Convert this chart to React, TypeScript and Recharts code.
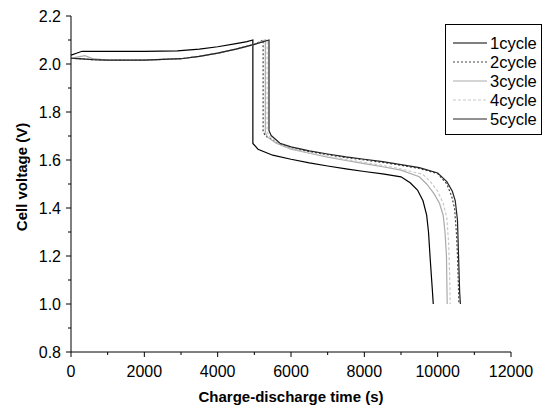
import { LineChart, Line, XAxis, YAxis, Legend } from 'recharts';

// time (s) / voltage (V), one pair of arrays per cycle
const c1Time = [0, 150, 300, 1000, 2000, 2900, 3500, 4000, 4500, 4800, 4960, 4960, 5100, 5500, 6000, 6500, 7000, 7500, 8000, 8500, 9000, 9250, 9450, 9600, 9700, 9750, 9800, 9850, 9880];
const c1Volt = [2.037, 2.045, 2.053, 2.053, 2.053, 2.055, 2.062, 2.072, 2.085, 2.093, 2.1, 1.669, 1.645, 1.62, 1.603, 1.588, 1.575, 1.563, 1.552, 1.542, 1.53, 1.505, 1.475, 1.43, 1.37, 1.3, 1.18, 1.07, 1.0];

const c2Time = [0, 200, 400, 600, 1000, 2000, 3000, 3500, 4000, 4500, 5000, 5240, 5240, 5300, 5600, 5800, 6000, 6500, 7000, 7500, 8000, 8500, 9000, 9500, 10000, 10250, 10380, 10460, 10510, 10540, 10560, 10580];
const c2Volt = [2.024, 2.022, 2.02, 2.018, 2.016, 2.016, 2.022, 2.032, 2.045, 2.062, 2.082, 2.1, 1.72, 1.7, 1.675, 1.66, 1.65, 1.635, 1.622, 1.61, 1.6, 1.59, 1.578, 1.565, 1.543, 1.5, 1.45, 1.4, 1.3, 1.2, 1.1, 1.0];

const c3Time = [0, 200, 380, 600, 1000, 2000, 3000, 3500, 4000, 4500, 5000, 5300, 5300, 5360, 5600, 6000, 6500, 7000, 7500, 8000, 8500, 9000, 9500, 9700, 9900, 10050, 10150, 10200, 10240, 10260];
const c3Volt = [2.024, 2.03, 2.035, 2.022, 2.016, 2.016, 2.022, 2.032, 2.045, 2.062, 2.082, 2.1, 1.715, 1.695, 1.67, 1.645, 1.628, 1.612, 1.598, 1.585, 1.572, 1.558, 1.53, 1.5, 1.46, 1.42, 1.37, 1.3, 1.2, 1.0];

const c4Time = [0, 200, 400, 600, 1000, 2000, 3000, 3500, 4000, 4500, 5000, 5350, 5350, 5410, 5600, 6000, 6500, 7000, 7500, 8000, 8500, 9000, 9600, 9800, 10000, 10150, 10250, 10300, 10330, 10340];
const c4Volt = [2.024, 2.022, 2.02, 2.018, 2.016, 2.016, 2.022, 2.032, 2.045, 2.062, 2.082, 2.1, 1.718, 1.698, 1.675, 1.648, 1.63, 1.615, 1.602, 1.59, 1.577, 1.563, 1.54, 1.51, 1.47, 1.42, 1.36, 1.25, 1.1, 1.0];

const c5Time = [0, 200, 400, 600, 1000, 2000, 3000, 3500, 4000, 4500, 5000, 5400, 5400, 5460, 5700, 6000, 6500, 7000, 7500, 8000, 8500, 9000, 9500, 10000, 10250, 10400, 10480, 10540, 10570, 10600, 10620];
const c5Volt = [2.024, 2.022, 2.02, 2.018, 2.016, 2.016, 2.022, 2.032, 2.045, 2.062, 2.082, 2.1, 1.722, 1.702, 1.67, 1.655, 1.638, 1.625, 1.613, 1.603, 1.593, 1.581, 1.568, 1.546, 1.51, 1.47, 1.43, 1.35, 1.2, 1.05, 1.0];

const xTicks = [0, 1000, 2000, 3000, 4000, 5000, 6000, 7000, 8000, 9000, 10000, 11000, 12000];
const yTicks = [0.8, 0.9, 1.0, 1.1, 1.2, 1.3, 1.4, 1.5, 1.6, 1.7, 1.8, 1.9, 2.0, 2.1, 2.2];

const toPoints = (t: number[], v: number[]) => t.map((x, i) => ({ t: x, v: v[i] }));

const series = [
  { name: '1cycle', data: toPoints(c1Time, c1Volt), color: '#000000', dash: undefined },
  { name: '2cycle', data: toPoints(c2Time, c2Volt), color: '#444444', dash: '2 2' },
  { name: '3cycle', data: toPoints(c3Time, c3Volt), color: '#aaaaaa', dash: undefined },
  { name: '4cycle', data: toPoints(c4Time, c4Volt), color: '#c8c8c8', dash: '3 2' },
  { name: '5cycle', data: toPoints(c5Time, c5Volt), color: '#222222', dash: undefined },
];

const font = '"Liberation Sans", Arial, sans-serif';

const XTick = (props: any) => {
  const { x, y, payload } = props;
  const major = payload.value % 2000 === 0;
  return (
    <g>
      <line x1={x} y1={y} x2={x} y2={y + (major ? 5 : 3)} stroke="#000" />
      {major && (
        <text x={x} y={y + 25} textAnchor="middle" fill="#000" fontSize={16} fontFamily={font}>
          {payload.value}
        </text>
      )}
    </g>
  );
};

const YTick = (props: any) => {
  const { x, y, payload } = props;
  const major = Math.round(payload.value * 10) % 2 === 0;
  return (
    <g>
      <line x1={x} y1={y} x2={x - (major ? 5 : 3)} y2={y} stroke="#000" />
      {major && (
        <text x={x - 10} y={y} dy="0.35em" textAnchor="end" fill="#000" fontSize={16} fontFamily={font}>
          {payload.value.toFixed(1)}
        </text>
      )}
    </g>
  );
};

const LegendBox = () => (
  <svg width={97} height={111} style={{ display: 'block' }}>
    <rect x={0.5} y={0.5} width={96} height={110} fill="#fff" stroke="#000" />
    {series.map((s, i) => (
      <g key={s.name}>
        <line x1={8} x2={42} y1={19 + i * 19} y2={19 + i * 19} stroke={s.color} strokeDasharray={s.dash} />
        <text x={45} y={19 + i * 19} dy="0.35em" fontSize={16.5} fontFamily={font} fill="#000">
          {s.name}
        </text>
      </g>
    ))}
  </svg>
);

export default function App() {
  return (
    <div style={{ position: 'absolute', left: 0, top: 0, width: 546, height: 409, background: '#fff' }}>
      <LineChart width={546} height={409} margin={{ top: 16, right: 35, left: 11, bottom: 7 }} style={{ fontFamily: font }}>
        <XAxis
          dataKey="t"
          type="number"
          domain={[0, 12000]}
          ticks={xTicks}
          interval={0}
          tick={<XTick />}
          tickLine={false}
          tickSize={0}
          tickMargin={0}
          height={50}
          axisLine={{ stroke: '#000' }}
          label={{ value: 'Charge-discharge time (s)', position: 'insideBottom', offset: 0, fill: '#000', fontSize: 15, fontWeight: 'bold', fontFamily: font }}
        />
        <YAxis
          dataKey="v"
          type="number"
          domain={[0.8, 2.2]}
          ticks={yTicks}
          interval={0}
          tick={<YTick />}
          tickLine={false}
          tickSize={0}
          tickMargin={0}
          width={60}
          axisLine={{ stroke: '#000' }}
          label={{ value: 'Cell voltage (V)', angle: -90, position: 'insideLeft', offset: 11, dy: -7, fill: '#000', fontSize: 15, fontWeight: 'bold', fontFamily: font, style: { textAnchor: 'middle' } }}
        />
        <Legend
          layout="vertical"
          align="center"
          verticalAlign="middle"
          content={() => <LegendBox />}
          wrapperStyle={{ top: 24, left: 445, width: 97, height: 111 }}
        />
        {series.map((s) => (
          <Line
            key={s.name}
            data={s.data}
            dataKey="v"
            name={s.name}
            type="linear"
            stroke={s.color}
            strokeWidth={1.2}
            strokeDasharray={s.dash}
            dot={false}
            activeDot={false}
            isAnimationActive={false}
          />
        ))}
      </LineChart>
    </div>
  );
}
